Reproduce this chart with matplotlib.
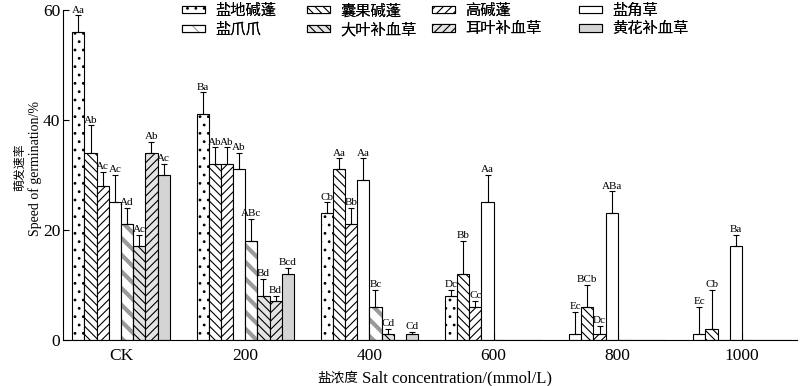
import numpy as np
import matplotlib
matplotlib.use("Agg")
import matplotlib.pyplot as plt
from matplotlib.legend_handler import HandlerTuple

plt.rcParams['font.family'] = ['Liberation Serif', 'Noto Sans CJK SC']
plt.rcParams['hatch.linewidth'] = 0.8

groups = ["CK", "200", "400", "600", "800", "1000"]
species = ["盐地碱蓬", "囊果碱蓬", "高碱蓬", "盐角草",
           "盐爪爪", "大叶补血草", "耳叶补血草", "黄花补血草"]

# mean germination speed (%) per species, across salt levels
s_yandi = [56, 41, 23, 8, 1, 1]
s_nangguo = [34, 32, 31, 12, 6, 2]
s_gao = [28, 32, 21, 6, 1, 0]
s_yanjiao = [25, 31, 29, 25, 23, 17]
s_yanzhua = [21, 18, 6, 0, 0, 0]
s_daye = [17, 8, 1, 0, 0, 0]
s_erye = [34, 7, 0, 0, 0, 0]
s_huanghua = [30, 12, 1, 0, 0, 0]

# upper error (SE)
e_yandi = [3, 4, 2, 1, 4, 5]
e_nangguo = [5, 3, 2, 6, 4, 7]
e_gao = [2.5, 3, 3, 1, 1.5, 0]
e_yanjiao = [5, 3, 4, 5, 4, 2]
e_yanzhua = [3, 4, 3, 0, 0, 0]
e_daye = [2, 3, 1, 0, 0, 0]
e_erye = [2, 1, 0, 0, 0, 0]
e_huanghua = [2, 1, 0.4, 0, 0, 0]

# significance letters
l_yandi = ["Aa", "Ba", "Cb", "Dc", "Ec", "Ec"]
l_nangguo = ["Ab", "Ab", "Aa", "Bb", "BCb", "Cb"]
l_gao = ["Ac", "Ab", "Bb", "Cc", "Dc", ""]
l_yanjiao = ["Ac", "Ab", "Aa", "Aa", "ABa", "Ba"]
l_yanzhua = ["Ad", "ABc", "Bc", "", "", ""]
l_daye = ["Ac", "Bd", "Cd", "", "", ""]
l_erye = ["Ab", "Bd", "", "", "", ""]
l_huanghua = ["Ac", "Bcd", "Cd", "", "", ""]

vals = [s_yandi, s_nangguo, s_gao, s_yanjiao, s_yanzhua, s_daye, s_erye, s_huanghua]
errs = [e_yandi, e_nangguo, e_gao, e_yanjiao, e_yanzhua, e_daye, e_erye, e_huanghua]
labs = [l_yandi, l_nangguo, l_gao, l_yanjiao, l_yanzhua, l_daye, l_erye, l_huanghua]

styles = [
    dict(facecolor="white", hatch="..", edgecolor="black"),
    dict(facecolor="white", hatch="\\\\\\\\", edgecolor="black"),
    dict(facecolor="white", hatch="////", edgecolor="black"),
    dict(facecolor="white", hatch=None, edgecolor="black"),
    dict(facecolor="white", hatch="\\\\", edgecolor="#9a9a9a"),
    dict(facecolor="#e4e4e4", hatch="\\\\\\\\", edgecolor="black"),
    dict(facecolor="#e4e4e4", hatch="////", edgecolor="black"),
    dict(facecolor="#d4d4d4", hatch=None, edgecolor="black"),
]

W, H = 800, 386
fig = plt.figure(figsize=(W / 100, H / 100), dpi=100)
ax = fig.add_axes([63 / W, 1 - 339.5 / H, (797 - 63) / W, (339.5 - 10) / H])

x = np.arange(len(groups))
w = 0.098
handles = []
for i in range(8):
    xi = x + (i - 3.5) * w
    st = styles[i]
    b = ax.bar(xi, vals[i], w, facecolor=st["facecolor"], edgecolor=st["edgecolor"],
               hatch=st["hatch"], linewidth=0.8, zorder=2)
    if i == 4:
        for p in b:
            if hasattr(p, "set_hatch_linewidth"):
                p.set_hatch_linewidth(3)
        ob = ax.bar(xi, vals[i], w, fill=False, edgecolor="black", linewidth=0.8, zorder=2.1)
        handles.append((b[0], ob[0]))
    else:
        handles.append(b[0])
    for j in range(len(groups)):
        if labs[i][j] == "":
            continue
        ax.errorbar(xi[j], vals[i][j], yerr=[[0], [errs[i][j]]], fmt="none",
                    ecolor="black", elinewidth=0.8, capsize=2.5, capthick=0.8, zorder=3)
        ax.annotate(labs[i][j], (xi[j], vals[i][j] + errs[i][j]), xytext=(0, 0.5),
                    textcoords="offset points", ha="center", va="bottom", fontsize=8,
                    zorder=4)

ax.set_xlim(-0.467, 5.443)
ax.set_ylim(0, 60)
ax.set_yticks([0, 20, 40, 60])
ax.set_xticks(x)
ax.set_xticklabels(groups)
ax.tick_params(direction="in", length=4, width=0.8, labelsize=12.5)
ax.tick_params(axis="y", pad=2)
ax.tick_params(axis="x", pad=6)
for s in ["top", "right"]:
    ax.spines[s].set_visible(False)
for s in ["left", "bottom"]:
    ax.spines[s].set_linewidth(0.8)

# y label: two rotated lines
fig.text(20 / W, 1 - 167 / H, "萌发速率", rotation=90, ha="center", va="center", fontsize=8.6)
fig.text(35 / W, 1 - 168 / H, "Speed of germination/%", rotation=90, ha="center",
         va="center", fontsize=10)
# x label
fig.text(358 / W, 1 - 382 / H, "盐浓度", ha="right", va="baseline", fontsize=9.8)
fig.text(362 / W, 1 - 382 / H, "Salt concentration/(mmol/L)", ha="left", va="baseline",
         fontsize=12)

# legend: 4 columns, row-major order, placed column by column
col_x = [182, 307, 432, 579]
for c in range(4):
    leg = fig.legend([handles[c], handles[c + 4]], [species[c], species[c + 4]],
                     loc="upper left", bbox_to_anchor=(col_x[c] / W, 1 - 4 / H),
                     frameon=False, fontsize=11, borderpad=0, borderaxespad=0,
                     handlelength=1.5, handleheight=0.35, handletextpad=0.7,
                     labelspacing=0.28, handler_map={tuple: HandlerTuple(ndivide=1)})
    fig.add_artist(leg)

fig.savefig("out.png", dpi=100)
